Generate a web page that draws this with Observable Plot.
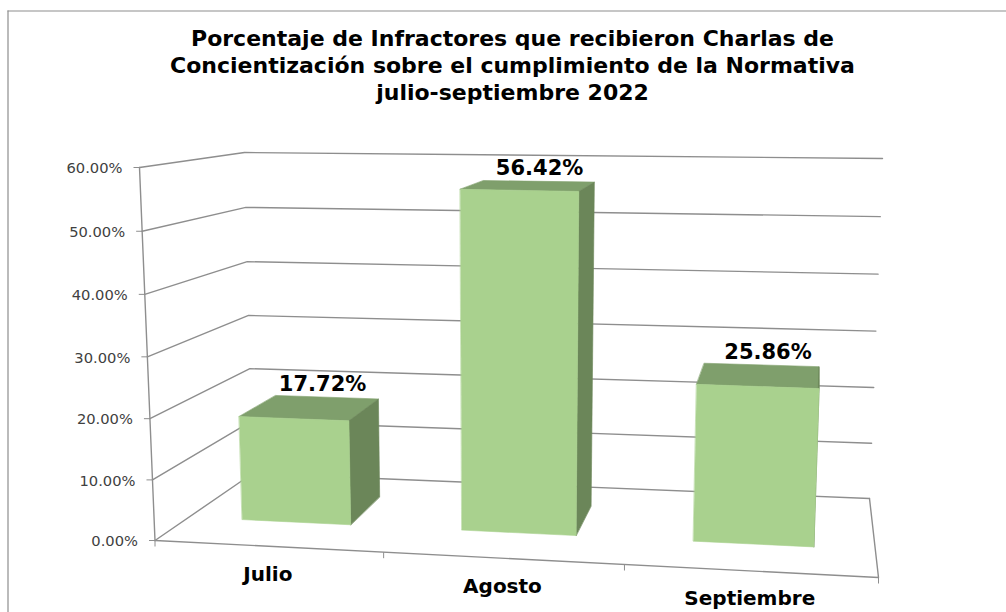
<!DOCTYPE html>
<html>
<head>
<meta charset="utf-8">
<script src="https://cdn.jsdelivr.net/npm/d3@7"></script>
<script src="https://cdn.jsdelivr.net/npm/@observablehq/plot@0.6"></script>
<style>
html,body{margin:0;padding:0;background:#fff;overflow:hidden}
svg{display:block}
</style>
</head>
<body>
<div id="chart"></div>
<script>
const titleLines = [
  "Porcentaje de Infractores que recibieron Charlas de",
  "Concientización sobre el cumplimiento de la Normativa",
  "julio-septiembre 2022"
];
const categories = ["Julio", "Agosto", "Septiembre"];
const values = [17.72, 56.42, 25.86];
const axisTicks = [0, 10, 20, 30, 40, 50, 60];
const font = "'DejaVu Sans', Verdana, sans-serif";

// Camera of the 3-D box: where each corner of the chart's box falls in the picture plane.
const frontLeft  = {base: [154.5, 540], top: [139, 167]};
const frontRight = {base: [878, 577],   top: [894, 182]};
const backLeft   = {base: [252, 473],   top: [244, 152]};
const backRight  = {base: [869, 498],   top: [882, 158]};
const vMax = 60, foreshortenX = 0.924, foreshortenY = 0.97;
const barHalf = 0.25, depthNear = 0.35, depthFar = 0.75, labelSpread = 1.025;
const tickLength = 6;

const mix = (a, b, t) => [a[0] + (b[0] - a[0]) * t, a[1] + (b[1] - a[1]) * t];
const warp = (s, f) => f * s / (1 + (f - 1) * s);
// category position u (0..3), value v, depth w (0 front..1 back) -> picture plane
function project(u, v, w) {
  const t = warp(u / categories.length, foreshortenX);
  const k = warp(v / vMax, foreshortenY);
  const fl = mix(frontLeft.base, frontLeft.top, k), fr = mix(frontRight.base, frontRight.top, k);
  const bl = mix(backLeft.base, backLeft.top, k), br = mix(backRight.base, backRight.top, k);
  return mix(mix(fl, fr, t), mix(bl, br, t), w);
}
const pt = (u, v, w, extra = {}) => {
  const [x, y] = project(u, v, w);
  return {x, y, ...extra};
};

// Walls and floor
const gridLines = axisTicks.flatMap(v => [
  pt(0, v, 0, {v}), pt(0, v, 1, {v}), pt(3, v, 1, {v})
]);
const floorFront = [pt(0, 0, 0), pt(3, 0, 0), pt(3, 0, 1)];
const yAxisLine = [pt(0, 0, 0), pt(0, vMax, 0)];
const yTickMarks = axisTicks.map(v => ({...pt(0, v, 0), v}));
const xTickMarks = d3.range(0, 4).map(u => pt(u, 0, 0));

// Bars
const faces = {top: [], right: [], front: []};
values.forEach((v, i) => {
  const a = i + 0.5 - barHalf, b = i + 0.5 + barHalf;
  const add = (kind, corners) => corners.forEach(c => faces[kind].push(pt(...c, {id: i})));
  add("top",   [[a, v, depthNear], [b, v, depthNear], [b, v, depthFar], [a, v, depthFar]]);
  add("right", [[b, 0, depthNear], [b, v, depthNear], [b, v, depthFar], [b, 0, depthFar]]);
  add("front", [[a, 0, depthNear], [b, 0, depthNear], [b, v, depthNear], [a, v, depthNear]]);
});
const face = (rows, fill) => Plot.line(rows, {x: "x", y: "y", z: "id", curve: "linear-closed", fill, stroke: fill, strokeWidth: 0.6});

const valueLabels = values.map((v, i) => pt(1.5 + (i - 1) * labelSpread, v, depthFar, {label: v.toFixed(2) + "%"}));
const categoryLabels = categories.map((c, i) => pt(i + 0.5, 0, 0, {label: c}));
const grey = "#8e8e8e";

const plot = Plot.plot({
  width: 1006, height: 612,
  margin: 0,
  x: {domain: [0, 1006], range: [0, 1006], axis: null},
  y: {domain: [0, 612], range: [0, 612], axis: null},
  style: {background: "#fff", fontFamily: font},
  marks: [
    Plot.ruleX([7.5], {y1: 10.5, y2: 612, stroke: grey, strokeWidth: 1.2}),
    Plot.ruleY([10.5], {x1: 7.5, x2: 1006, stroke: grey, strokeWidth: 1.2}),
    Plot.line(gridLines, {x: "x", y: "y", z: "v", stroke: grey, strokeWidth: 1.4}),
    Plot.line(floorFront, {x: "x", y: "y", stroke: grey, strokeWidth: 1.4}),
    Plot.line(yAxisLine, {x: "x", y: "y", stroke: grey, strokeWidth: 1.4}),
    Plot.link(yTickMarks, {x1: d => d.x - tickLength, x2: "x", y1: "y", y2: "y", stroke: grey, strokeWidth: 1}),
    Plot.link(xTickMarks, {x1: "x", x2: "x", y1: "y", y2: d => d.y + tickLength, stroke: grey, strokeWidth: 1}),
    face(faces.top, "#7f9f6c"),
    face(faces.right, "#6b8659"),
    face(faces.front, "#a9d18e"),
    Plot.text(yTickMarks, {x: "x", y: "y", text: d => d.v.toFixed(2) + "%", textAnchor: "end", dx: -17, dy: 1, fontSize: 14.7, fill: "#404040"}),
    Plot.text(valueLabels, {x: "x", y: "y", text: "label", dx: 1, dy: -13, fontSize: 21, fontWeight: "bold", fill: "#000"}),
    Plot.text(categoryLabels, {x: "x", y: "y", text: "label", dy: 28, fontSize: 20, fontWeight: "bold", fill: "#000"}),
    Plot.text(titleLines, {x: () => 512, y: (d, i) => 38 + i * 27, text: d => d, fontSize: 22, fontWeight: "bold", fill: "#000"})
  ]
});
document.getElementById("chart").appendChild(plot);
</script>
</body>
</html>
